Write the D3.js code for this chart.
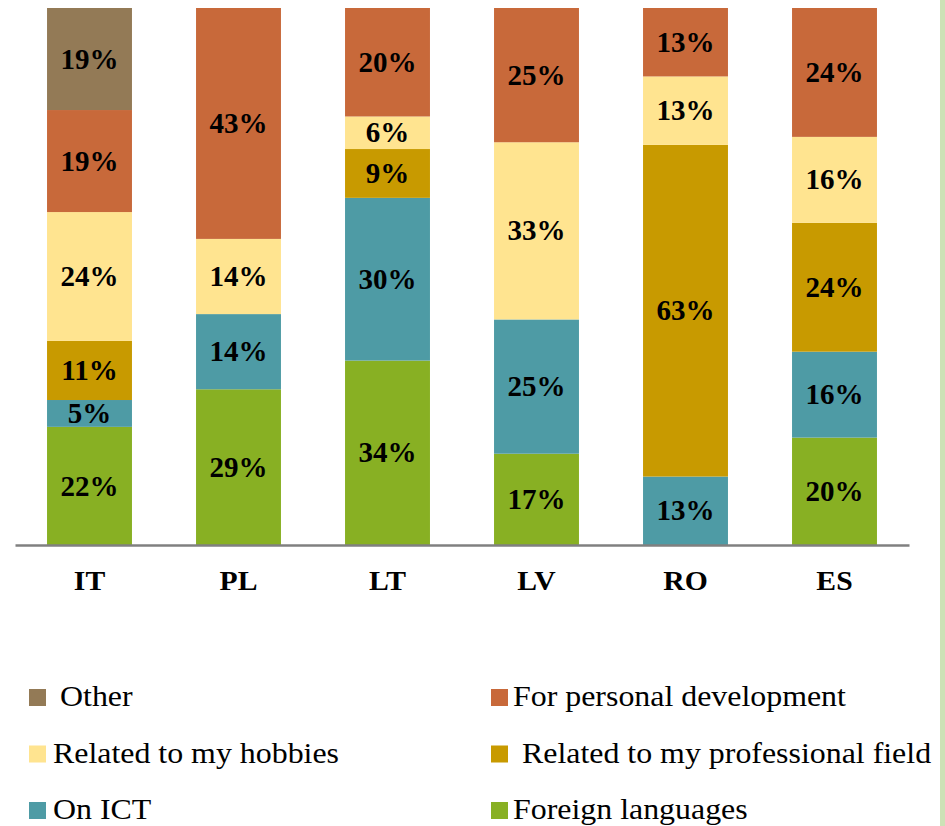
<!DOCTYPE html>
<html>
<head>
<meta charset="utf-8">
<script src="https://cdn.jsdelivr.net/npm/d3@7"></script>
<style>
  html, body { margin: 0; padding: 0; background: #ffffff; }
  svg { display: block; }
  svg text { font-family: "Liberation Serif", "Times New Roman", Times, serif; }
</style>
</head>
<body>
<svg id="chart" width="945" height="826"></svg>
<script>
const categories = ["IT", "PL", "LT", "LV", "RO", "ES"];
const seriesNames = ["Foreign languages", "On ICT", "Related to my professional field", "Related to my hobbies", "For personal development", "Other"];
const foreignLanguages = [22, 29, 34, 17, 0, 20];
const onICT = [5, 14, 30, 25, 13, 16];
const professionalField = [11, 0, 9, 0, 63, 24];
const hobbies = [24, 14, 6, 33, 13, 16];
const personalDevelopment = [19, 43, 20, 25, 13, 24];
const other = [19, 0, 0, 0, 0, 0];
const colors = ["#88B023", "#4E9BA5", "#C89A00", "#FFE490", "#C8693A", "#937A56"];

const seriesValues = [foreignLanguages, onICT, professionalField, hobbies, personalDevelopment, other];
const rows = categories.map((c, i) => {
  const r = { cat: c };
  seriesNames.forEach((s, j) => { r[s] = seriesValues[j][i]; });
  return r;
});

const svg = d3.select("#chart");
svg.append("rect").attr("x", 940).attr("y", 0).attr("width", 5).attr("height", 826).attr("fill", "#CCE2B6");

const x = d3.scaleBand().domain(categories).range([15, 909]).paddingInner(0.43).paddingOuter(0.215);
const y = d3.scaleLinear().domain([0, 1]).range([545, 8]);
const color = d3.scaleOrdinal().domain(seriesNames).range(colors);

const stack = d3.stack().keys(seriesNames).offset(d3.stackOffsetExpand);
const stacked = stack(rows);

const layers = svg.append("g").selectAll("g").data(stacked).join("g")
  .attr("fill", d => color(d.key));

layers.selectAll("rect").data(d => d.map(p => ({ p, key: d.key })))
  .join("rect")
  .attr("x", d => x(d.p.data.cat))
  .attr("width", x.bandwidth())
  .attr("y", d => y(d.p[1]))
  .attr("height", d => Math.max(0, y(d.p[0]) - y(d.p[1])));

const labels = svg.append("g")
  .style("font-weight", "bold")
  .style("font-size", "29px")
  .attr("text-anchor", "middle")
  .attr("fill", "#000");

stacked.forEach(layer => {
  layer.forEach(p => {
    const v = p.data[layer.key];
    if (v > 0) {
      labels.append("text")
        .attr("x", x(p.data.cat) + x.bandwidth() / 2)
        .attr("y", (y(p[0]) + y(p[1])) / 2)
        .attr("dy", "0.33em")
        .text(v + "%");
    }
  });
});

const axis = svg.append("g").attr("transform", "translate(0,545)")
  .call(d3.axisBottom(x).tickSize(0).tickSizeOuter(0));
axis.attr("font-family", null).attr("font-size", null);
axis.select(".domain").attr("stroke", "#808080").attr("stroke-width", 2.5);
axis.selectAll(".tick text")
  .attr("y", 45).attr("dy", 0)
  .attr("transform", "scale(1.06,1)")
  .style("font-weight", "bold")
  .style("font-size", "28px")
  .attr("fill", "#000");
axis.selectAll(".tick").each(function () {
  const t = d3.select(this);
  const tx = +t.attr("transform").match(/translate\(([-\d.]+)/)[1];
  t.attr("transform", `translate(${tx},0)`);
});

const legendItems = [
  { name: "Other", sx: 29, tx: 60, row: 0 },
  { name: "For personal development", sx: 491, tx: 513, row: 0 },
  { name: "Related to my hobbies", sx: 29, tx: 53, row: 1 },
  { name: "Related to my professional field", sx: 491, tx: 522, row: 1 },
  { name: "On ICT", sx: 29, tx: 53, row: 2 },
  { name: "Foreign languages", sx: 491, tx: 513, row: 2 }
];
const legend = svg.append("g")
  .style("font-size", "29px")
  .attr("fill", "#000");
legendItems.forEach(it => {
  const base = 706 + it.row * 56.5;
  legend.append("rect").attr("x", it.sx).attr("y", base - 17).attr("width", 17).attr("height", 17)
    .attr("fill", color(it.name));
  legend.append("text")
    .attr("transform", `translate(${it.tx},${base}) scale(1.1,1)`)
    .text(it.name);
});
</script>
</body>
</html>
